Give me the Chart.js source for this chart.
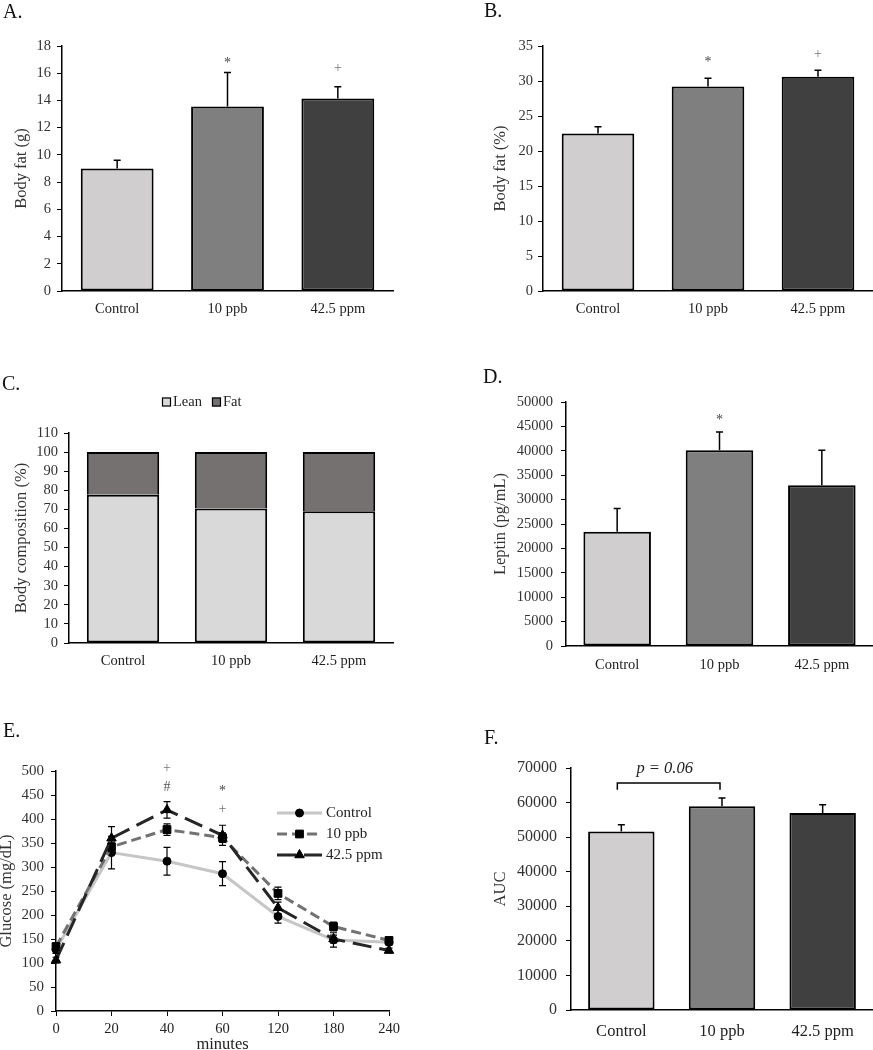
<!DOCTYPE html>
<html>
<head>
<meta charset="utf-8">
<title>Body fat, body composition, leptin and glucose tolerance</title>
<script src="https://cdn.jsdelivr.net/npm/chart.js@4.4.1/dist/chart.umd.min.js"></script>
<style>
html, body { margin:0; padding:0; background:#fff; overflow:hidden; }
#fig { position:relative; width:873px; height:1050px; background:#fff; overflow:hidden; }
#fig canvas { position:absolute; }
.panel-label { position:absolute; font-family:"Liberation Serif","Times New Roman",serif; font-size:20px; line-height:20px; color:#111; white-space:nowrap; }
</style>
</head>
<body>
<div id="fig">
  <canvas id="chartA" width="436" height="330" style="left:0px;top:0px;width:436px;height:330px"></canvas>
  <canvas id="chartB" width="437" height="330" style="left:436px;top:0px;width:437px;height:330px"></canvas>
  <canvas id="chartC" width="436" height="360" style="left:0px;top:330px;width:436px;height:360px"></canvas>
  <canvas id="chartD" width="437" height="360" style="left:436px;top:330px;width:437px;height:360px"></canvas>
  <canvas id="chartE" width="436" height="380" style="left:0px;top:690px;width:436px;height:380px"></canvas>
  <canvas id="chartF" width="437" height="380" style="left:436px;top:690px;width:437px;height:380px"></canvas>
  <div class="panel-label" style="left:3px;top:1px">A.</div>
  <div class="panel-label" style="left:484px;top:0px">B.</div>
  <div class="panel-label" style="left:2px;top:373px">C.</div>
  <div class="panel-label" style="left:483px;top:366px">D.</div>
  <div class="panel-label" style="left:3px;top:720px">E.</div>
  <div class="panel-label" style="left:484px;top:727px">F.</div>
</div>
<script>
// ---------------- data ----------------
const categories = ['Control', '10 ppb', '42.5 ppm'];

const fatGrams = [9.0, 13.55, 14.15];
const fatGramsErr = [0.6, 2.5, 0.85];
const fatGramsSig = ['', '*', '+'];
const fatGramsSigAt = [null, 16.97, 16.48];

const fatPercent = [22.5, 29.2, 30.6];
const fatPercentErr = [0.96, 1.19, 0.95];
const fatPercentSig = ['', '*', '+'];
const fatPercentSigAt = [null, 33.1, 34.05];

const compLabels = ['Lean', 'Fat'];
const leanShare = [77.6, 70.4, 69.0];
const fatShare = [22.4, 29.6, 31.0];

const leptin = [23400, 40100, 32950];
const leptinErr = [4780, 3750, 7160];
const leptinSig = ['', '*', ''];
const leptinSigAt = [null, 46850, null];

const minutes = ['0', '20', '40', '60', '120', '180', '240'];
const glucoseLabels = ['Control', '10 ppb', '42.5 ppm'];
const glucoseControl = [128, 330, 312, 286, 197, 148, 143];
const glucoseControlErr = [8, 34, 29, 25, 14, 15, 6];
const glucose10ppb = [134, 342, 378, 361, 245, 176, 147];
const glucose10ppbErr = [8, 10, 12, 10, 13, 9, 6];
const glucose425ppm = [106, 360, 419, 366, 215, 150, 126];
const glucose425ppmErr = [6, 24, 17, 21, 12, 8, 5];
const glucoseSigUpper = ['', '', '+', '*', '', '', ''];
const glucoseSigUpperAt = [null, null, 509, 465, null, null, null];
const glucoseSigLower = ['', '', '#', '+', '', '', ''];
const glucoseSigLowerAt = [null, null, 469, 422, null, null, null];

const auc = [51650, 58900, 56950];
const aucErr = [1930, 2410, 2410];
const aucBracketPair = [0, 1];
const aucBracketLevels = [65650, 63700];
const aucBracketText = 'p = 0.06';
const aucBracketTextAt = 69900;

// ---------------- styling helpers ----------------
const SERIF = '"Liberation Serif", "Times New Roman", Times, serif';
Chart.defaults.font.family = SERIF;
Chart.defaults.color = '#333';
const TICK = 14.5, TITLE = 16.5;
const barColors = ['#d0cece', '#7f7f7f', '#404040'];
const markColors = {'*': '#444', '+': '#777', '#': '#555'};

function marks(sig, at) {
  return sig.map((t, i) => ({i: i, t: t, v: at[i]})).filter(m => m.t);
}

function yAxis(min, max, step, title, width, pad, size) {
  return {
    type: 'linear', min: min, max: max,
    ticks: {stepSize: step, autoSkip: false, padding: pad, color: '#333',
            font: {family: SERIF, size: size || TICK}, callback: v => String(v)},
    grid: {display: true, drawOnChartArea: false, drawTicks: true, tickLength: 5, color: '#000', lineWidth: 1},
    border: {display: true, color: '#000', width: 1.5},
    title: {display: true, text: title, color: '#333', padding: 0, font: {family: SERIF, size: TITLE}},
    afterFit: s => { s.width = width; }
  };
}
function xBars(pad, size) {
  return {
    type: 'category', offset: true,
    ticks: {autoSkip: false, maxRotation: 0, padding: pad, color: '#222', font: {family: SERIF, size: size || TICK}},
    grid: {display: false},
    border: {display: true, color: '#000', width: 1.5}
  };
}
function baseOptions(scales) {
  return {
    responsive: false, animation: false, devicePixelRatio: 1, events: [],
    layout: {padding: {left: 0, top: 0, right: 0, bottom: 0}},
    plugins: {legend: {display: false}, tooltip: {enabled: false}},
    scales: scales
  };
}
function barDataset(label, data, errors) {
  return {label: label, data: data, errors: errors, backgroundColor: barColors, borderColor: '#000',
          borderWidth: 2, borderSkipped: false, barPercentage: 0.66, categoryPercentage: 1};
}

// ---------------- plugins ----------------
function errorBarPlugin(o) {
  return {
    id: 'errorBars',
    afterDatasetsDraw(chart) {
      const ctx = chart.ctx;
      chart.data.datasets.forEach((ds, i) => {
        if (!ds.errors) return;
        const meta = chart.getDatasetMeta(i);
        const ys = chart.scales[meta.yAxisID];
        meta.data.forEach((el, j) => {
          const v = ds.data[j], e = ds.errors[j];
          if (v == null || e == null) return;
          const x = el.x;
          const yTop = ys.getPixelForValue(v + e);
          const yBot = o.both ? ys.getPixelForValue(v - e) : ys.getPixelForValue(v);
          ctx.save();
          ctx.strokeStyle = '#000';
          ctx.lineWidth = o.width || 1.5;
          ctx.setLineDash([]);
          ctx.beginPath();
          ctx.moveTo(x, yBot); ctx.lineTo(x, yTop);
          ctx.moveTo(x - o.cap, yTop); ctx.lineTo(x + o.cap, yTop);
          if (o.both) { ctx.moveTo(x - o.cap, yBot); ctx.lineTo(x + o.cap, yBot); }
          ctx.stroke();
          ctx.restore();
        });
      });
    }
  };
}
function markPlugin(items, size) {
  return {
    id: 'sigMarks',
    afterDatasetsDraw(chart) {
      const ctx = chart.ctx, xs = chart.scales.x, ys = chart.scales.y;
      items.forEach(m => {
        const x = xs.getPixelForValue(m.i);
        const y = ys.getPixelForValue(m.v);
        ctx.save();
        ctx.font = (size || 14) + 'px ' + SERIF;
        ctx.fillStyle = markColors[m.t] || '#444';
        ctx.textAlign = 'center';
        ctx.textBaseline = 'alphabetic';
        const mt = ctx.measureText(m.t);
        ctx.fillText(m.t, x, y + (mt.actualBoundingBoxAscent - mt.actualBoundingBoxDescent) / 2);
        ctx.restore();
      });
    }
  };
}
function bracketPlugin(pair, levels, text, textAt) {
  return {
    id: 'bracket',
    afterDatasetsDraw(chart) {
      const ctx = chart.ctx, xs = chart.scales.x, ys = chart.scales.y;
      const x1 = xs.getPixelForValue(pair[0]) - 4, x2 = xs.getPixelForValue(pair[1]) - 2;
      const yT = ys.getPixelForValue(levels[0]), yL = ys.getPixelForValue(levels[1]);
      ctx.save();
      ctx.strokeStyle = '#000'; ctx.lineWidth = 1.5;
      ctx.beginPath();
      ctx.moveTo(x1, yL); ctx.lineTo(x1, yT); ctx.lineTo(x2, yT); ctx.lineTo(x2, yL);
      ctx.stroke();
      ctx.font = 'italic 16.5px ' + SERIF;
      ctx.fillStyle = '#222'; ctx.textAlign = 'center'; ctx.textBaseline = 'middle';
      ctx.fillText(text, (x1 + x2) / 2 - 4, ys.getPixelForValue(textAt));
      ctx.restore();
    }
  };
}
function lineLegendPlugin(o) {
  return {
    id: 'lineLegend',
    afterDraw(chart) {
      const ctx = chart.ctx;
      chart.data.datasets.forEach((ds, i) => {
        const y = o.y + i * o.dy;
        ctx.save();
        ctx.strokeStyle = ds.borderColor; ctx.lineWidth = ds.borderWidth;
        ctx.setLineDash(ds.borderDash || []);
        ctx.beginPath(); ctx.moveTo(o.x, y); ctx.lineTo(o.x + o.len, y); ctx.stroke();
        ctx.setLineDash([]);
        ctx.fillStyle = ds.pointBackgroundColor; ctx.strokeStyle = ds.pointBorderColor; ctx.lineWidth = 1;
        Chart.helpers.drawPoint(ctx, {pointStyle: ds.pointStyle, radius: ds.pointRadius, rotation: 0, borderWidth: 1}, o.x + o.len / 2, y);
        ctx.fillStyle = '#222'; ctx.font = o.font; ctx.textAlign = 'left'; ctx.textBaseline = 'middle';
        ctx.fillText(ds.label, o.textX, y);
        ctx.restore();
      });
    }
  };
}
function boxLegendPlugin(o) {
  return {
    id: 'boxLegend',
    afterDraw(chart) {
      const ctx = chart.ctx; let x = o.x;
      ctx.save();
      ctx.font = o.font; ctx.textBaseline = 'middle'; ctx.textAlign = 'left';
      chart.data.datasets.forEach(ds => {
        ctx.fillStyle = ds.backgroundColor;
        ctx.fillRect(x, o.y - o.box / 2, o.box, o.box);
        ctx.strokeStyle = '#000'; ctx.lineWidth = 1.2;
        ctx.strokeRect(x + 0.5, o.y - o.box / 2 + 0.5, o.box - 1, o.box - 1);
        x += o.box + 2;
        ctx.fillStyle = '#222';
        ctx.fillText(ds.label, x, o.y);
        x += ctx.measureText(ds.label).width + 10;
      });
      ctx.restore();
    }
  };
}

// place the chart area at the wanted pixel box inside its canvas
function build(id, config, area) {
  const pad = config.options.layout.padding;
  const chart = new Chart(document.getElementById(id), config);
  for (let k = 0; k < 4; k++) {
    const a = chart.chartArea;
    pad.left += area.left - a.left;
    pad.top += area.top - a.top;
    pad.right += a.right - area.right;
    pad.bottom += a.bottom - area.bottom;
    chart.update('none');
  }
  return chart;
}

// ---------------- A: body fat (g) ----------------
build('chartA', {
  type: 'bar',
  data: {labels: categories, datasets: [barDataset('Body fat (g)', fatGrams, fatGramsErr)]},
  options: baseOptions({x: xBars(1), y: yAxis(0, 18, 2, 'Body fat (g)', 50, 6)}),
  plugins: [errorBarPlugin({cap: 3.5}), markPlugin(marks(fatGramsSig, fatGramsSigAt))]
}, {left: 62, top: 46, right: 393, bottom: 291});

// ---------------- B: body fat (%) ----------------
build('chartB', {
  type: 'bar',
  data: {labels: categories, datasets: [barDataset('Body fat (%)', fatPercent, fatPercentErr)]},
  options: baseOptions({x: xBars(1), y: yAxis(0, 35, 5, 'Body fat (%)', 52, 5)}),
  plugins: [errorBarPlugin({cap: 3.5}), markPlugin(marks(fatPercentSig, fatPercentSigAt))]
}, {left: 107, top: 46, right: 437, bottom: 291});

// ---------------- C: body composition ----------------
(function () {
  const x = xBars(1); x.stacked = true;
  const y = yAxis(0, 110, 10, 'Body composition (%)', 57, 6); y.stacked = true;
  build('chartC', {
    type: 'bar',
    data: {labels: categories, datasets: [
      {label: compLabels[0], data: leanShare, backgroundColor: '#d9d9d9', borderColor: '#000', borderWidth: 2,
       borderSkipped: false, barPercentage: 0.67, categoryPercentage: 1},
      {label: compLabels[1], data: fatShare, backgroundColor: '#767171', borderColor: '#000', borderWidth: 2,
       borderSkipped: 'start', barPercentage: 0.67, categoryPercentage: 1}
    ]},
    options: baseOptions({x: x, y: y}),
    plugins: [boxLegendPlugin({x: 162, y: 72, box: 9, font: '14.5px ' + SERIF})]
  }, {left: 69, top: 103, right: 393, bottom: 313});
})();

// ---------------- D: leptin ----------------
build('chartD', {
  type: 'bar',
  data: {labels: categories, datasets: [barDataset('Leptin (pg/mL)', leptin, leptinErr)]},
  options: baseOptions({x: xBars(2), y: yAxis(0, 50000, 5000, 'Leptin (pg/mL)', 75, 8)}),
  plugins: [errorBarPlugin({cap: 3.5}), markPlugin(marks(leptinSig, leptinSigAt))]
}, {left: 130, top: 72, right: 437, bottom: 316});

// ---------------- E: glucose tolerance ----------------
build('chartE', {
  type: 'line',
  data: {labels: minutes, datasets: [
    {label: glucoseLabels[0], data: glucoseControl, errors: glucoseControlErr, borderColor: '#c6c6c6', borderWidth: 3,
     pointStyle: 'circle', pointRadius: 4, pointBackgroundColor: '#000', pointBorderColor: '#000', pointBorderWidth: 1,
     tension: 0, clip: false, order: 3},
    {label: glucoseLabels[1], data: glucose10ppb, errors: glucose10ppbErr, borderColor: '#727272', borderWidth: 3,
     borderDash: [10, 5], pointStyle: 'rect', pointRadius: 5.5, pointBackgroundColor: '#000', pointBorderColor: '#000',
     pointBorderWidth: 1, tension: 0, clip: false, order: 2},
    {label: glucoseLabels[2], data: glucose425ppm, errors: glucose425ppmErr, borderColor: '#262626', borderWidth: 3,
     borderDash: [19, 8], pointStyle: 'triangle', pointRadius: 5.5, pointBackgroundColor: '#000', pointBorderColor: '#000',
     pointBorderWidth: 1, tension: 0, clip: false, order: 1}
  ]},
  options: baseOptions({
    x: {
      type: 'category', offset: false,
      ticks: {autoSkip: false, maxRotation: 0, padding: 4, color: '#222', font: {family: SERIF, size: TICK}},
      grid: {display: true, drawOnChartArea: false, drawTicks: true, tickLength: 5, color: '#000', lineWidth: 1, offset: false},
      border: {display: true, color: '#000', width: 1.5},
      title: {display: true, text: 'minutes', color: '#222', padding: 0, font: {family: SERIF, size: TITLE}},
      afterFit: s => { s.height = 44; }
    },
    y: yAxis(0, 500, 50, 'Glucose (mg/dL)', 59, 7, 15)
  }),
  plugins: [
    errorBarPlugin({cap: 3.5, both: true, width: 1.2}),
    markPlugin(marks(glucoseSigUpper, glucoseSigUpperAt).concat(marks(glucoseSigLower, glucoseSigLowerAt))),
    lineLegendPlugin({x: 277, y: 123, dy: 21, len: 45, textX: 326, font: '15px ' + SERIF})
  ]
}, {left: 56, top: 81, right: 389, bottom: 321});

// ---------------- F: AUC ----------------
build('chartF', {
  type: 'bar',
  data: {labels: categories, datasets: [barDataset('AUC', auc, aucErr)]},
  options: baseOptions({x: xBars(4, 16.5), y: yAxis(0, 70000, 10000, 'AUC', 80, 9, 16)}),
  plugins: [errorBarPlugin({cap: 3.5}), bracketPlugin(aucBracketPair, aucBracketLevels, aucBracketText, aucBracketTextAt)]
}, {left: 135, top: 78, right: 437, bottom: 320});
</script>
</body>
</html>
